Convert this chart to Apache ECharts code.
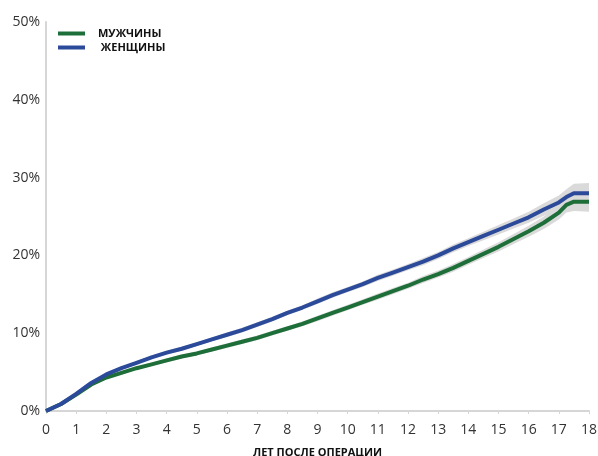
<!DOCTYPE html>
<html lang="ru">
<head>
    <meta charset="UTF-8">
    <title>chart</title>
    <script src="https://cdn.jsdelivr.net/npm/echarts@6/dist/echarts.min.js"></script>
    <style>
        html, body { margin: 0; padding: 0; background: #fff; }
        #main { width: 598px; height: 456px; }
    </style>
</head>
<body>
<div id="main"></div>
<script type="text/javascript">
// годы после операции
var years = [0, 0.5, 1, 1.5, 2, 2.5, 3, 3.5, 4, 4.5, 5, 5.5, 6, 6.5, 7, 7.5, 8, 8.5, 9, 9.5,
    10, 10.5, 11, 11.5, 12, 12.5, 13, 13.5, 14, 14.5, 15, 15.5, 16, 16.5, 17, 17.25, 17.5, 18];
// мужчины, %
var men = [0, 0.9, 2.1, 3.4, 4.3, 4.9, 5.5, 6.0, 6.5, 7.0, 7.4, 7.9, 8.4, 8.9, 9.4, 10.0, 10.6, 11.2, 11.9, 12.6,
    13.3, 14.0, 14.7, 15.4, 16.1, 16.9, 17.6, 18.4, 19.3, 20.2, 21.1, 22.1, 23.1, 24.2, 25.5, 26.5, 26.9, 26.9];
// женщины, %
var women = [0, 0.9, 2.2, 3.6, 4.7, 5.5, 6.2, 6.9, 7.5, 8.0, 8.6, 9.2, 9.8, 10.4, 11.1, 11.8, 12.6, 13.3, 14.1, 14.9,
    15.6, 16.3, 17.1, 17.8, 18.5, 19.2, 20.0, 20.9, 21.7, 22.5, 23.3, 24.1, 24.9, 25.9, 26.8, 27.5, 28.0, 28.0];
// половина ширины доверительного интервала, %
var ciHalf = [0, 0.1, 0.2, 0.2, 0.2, 0.2, 0.2, 0.2, 0.25, 0.25, 0.25, 0.25, 0.3, 0.3, 0.3, 0.3, 0.3, 0.3, 0.35, 0.35,
    0.35, 0.35, 0.4, 0.4, 0.4, 0.45, 0.45, 0.5, 0.5, 0.55, 0.6, 0.65, 0.7, 0.8, 0.9, 1.0, 1.2, 1.3];
var xTicks = [0, 18, 1];
var yTicks = [0, 50, 10];

var GREEN = '#1d6e38';
var BLUE = '#2c4a9a';
var BAND = '#dadada';

function pairs(v) {
    return years.map(function (x, i) { return [x, v[i]]; });
}

// доверительная полоса как один многоугольник
function bandSeries(v) {
    return {
        type: 'custom', silent: true, z: 1,
        data: [0],
        renderItem: function (params, api) {
            var pts = [];
            for (var i = 0; i < years.length; i++) pts.push(api.coord([years[i], v[i] + ciHalf[i]]));
            for (var j = years.length - 1; j >= 0; j--) pts.push(api.coord([years[j], v[j] - ciHalf[j]]));
            return { type: 'polygon', shape: { points: pts }, style: { fill: BAND } };
        }
    };
}

var chart = echarts.init(document.getElementById('main'));
var option = {
    animation: false,
    textStyle: { fontFamily: 'Open Sans' },
    grid: { left: 46, right: 9, top: 22, bottom: 45, outerBoundsMode: 'none', containLabel: false },
    legend: {
        data: ['МУЖЧИНЫ', ' ЖЕНЩИНЫ'],
        orient: 'vertical', left: 53, top: 23,
        icon: 'rect', itemWidth: 27, itemHeight: 4, itemGap: 3,
        textStyle: { fontSize: 11, fontWeight: 'bold', color: '#111', padding: [0, 0, 0, 8] }
    },
    xAxis: {
        type: 'value', min: xTicks[0], max: xTicks[1], interval: xTicks[2],
        name: 'ЛЕТ ПОСЛЕ ОПЕРАЦИИ', nameLocation: 'middle', nameGap: 36,
        nameTextStyle: { fontSize: 11, fontWeight: 'bold', color: '#111' },
        axisLine: { lineStyle: { color: '#d6d6d6', width: 2 } },
        axisTick: { show: true, length: 3, lineStyle: { color: '#d6d6d6' } },
        axisLabel: { fontSize: 14, color: '#333', margin: 12 },
        splitLine: { show: false }
    },
    yAxis: {
        type: 'value', min: yTicks[0], max: yTicks[1], interval: yTicks[2],
        axisLine: { show: true, lineStyle: { color: '#d6d6d6', width: 2 } },
        axisTick: { show: false },
        axisLabel: { fontSize: 14, color: '#333', formatter: '{value}%', margin: 6 },
        splitLine: { show: false }
    },
    series: [bandSeries(men), bandSeries(women), {
        name: 'МУЖЧИНЫ', type: 'line', data: pairs(men), symbol: 'none',
        itemStyle: { color: GREEN }, lineStyle: { color: GREEN, width: 4 }, z: 3
    }, {
        name: ' ЖЕНЩИНЫ', type: 'line', data: pairs(women), symbol: 'none',
        itemStyle: { color: BLUE }, lineStyle: { color: BLUE, width: 4 }, z: 4
    }]
};
chart.setOption(option);
</script>
</body>
</html>
